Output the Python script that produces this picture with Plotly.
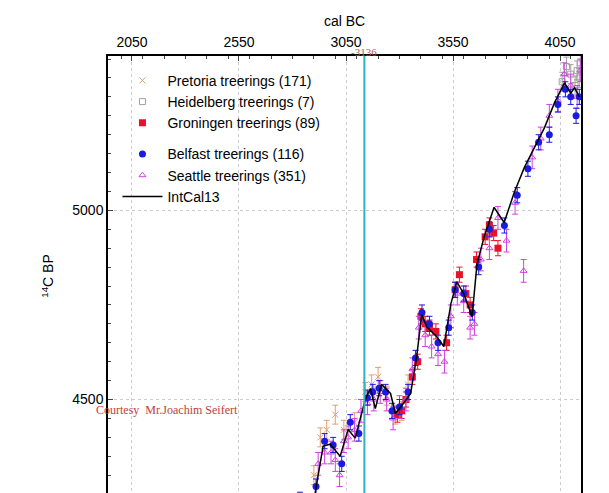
import plotly.graph_objects as go

# IntCal13 curve
curve_x = [2905, 2943, 2976, 3023, 3060, 3093, 3140, 3164, 3187, 3216, 3258, 3281, 3319, 3352,
           3380, 3404, 3427, 3474, 3507, 3540, 3568, 3601, 3639, 3662, 3695, 3742, 3789, 3836,
           3883, 3930, 3977, 4024, 4071, 4100, 4118, 4140]
curve_y = [4250, 4377, 4382, 4350, 4421, 4398, 4500, 4529, 4476, 4540, 4516, 4463, 4490, 4516,
           4613, 4724, 4692, 4666, 4640, 4753, 4811, 4779, 4719, 4858, 4929, 5008, 4968, 5047,
           5113, 5166, 5218, 5284, 5337, 5310, 5324, 5300]

belfast_x = [2835, 2910, 2950, 2990, 3030, 3070, 3110, 3150, 3175, 3205, 3235, 3265, 3300, 3340,
             3375, 3405, 3440, 3480, 3530, 3560, 3600, 3640, 3670, 3720, 3790, 3850, 3900, 3950,
             4000, 4040, 4075, 4100, 4125, 4140]
belfast_y = [4235, 4270, 4390, 4380, 4330, 4440, 4410, 4505, 4520, 4530, 4520, 4470, 4480, 4520,
             4610, 4730, 4700, 4650, 4690, 4790, 4780, 4730, 4850, 4950, 4960, 5040, 5110, 5180,
             5200, 5280, 5320, 5300, 5250, 5300]
belfast_e = [20] * len(belfast_x)

seattle_x = [2920, 2950, 2980, 3000, 3020, 3040, 3060, 3090, 3120, 3150, 3180, 3210, 3240, 3270,
             3300, 3330, 3360, 3390, 3420, 3450, 3480, 3510, 3540, 3570, 3600, 3630, 3650, 3680,
             3720, 3760, 3800, 3840, 3880, 3920, 3960, 4000, 4040, 4070, 4100, 4130, 4145]
seattle_y = [4330, 4360, 4360, 4340, 4300, 4390, 4400, 4420, 4470, 4490, 4500, 4520, 4500, 4450,
             4480, 4500, 4580, 4690, 4670, 4640, 4620, 4600, 4720, 4780, 4760, 4690, 4700, 4870,
             4900, 4980, 4920, 5020, 4840, 5140, 5190, 5250, 5290, 5360, 5330, 5300, 5370]
seattle_e = [30] * len(seattle_x)

groningen_x = [3290, 3310, 3330, 3360, 3385, 3400, 3420, 3440, 3470, 3520, 3560, 3580, 3610,
               3630, 3660, 3700, 3720, 3740, 3760]
groningen_y = [4460, 4470, 4500, 4560, 4600, 4720, 4700, 4690, 4680, 4650, 4790, 4830, 4780,
               4750, 4870, 4930, 4960, 4940, 4900]
groningen_e = [20] * len(groningen_x)

pretoria_x = [2900, 2930, 2960, 3000, 3040, 3090, 3140, 3170, 3200, 3240, 3280, 3310, 3340]
pretoria_y = [4300, 4400, 4420, 4460, 4420, 4440, 4520, 4540, 4560, 4510, 4460, 4470, 4540]
pretoria_e = [25] * len(pretoria_x)

heidelberg_x = [4060, 4080, 4100, 4120, 4130, 4140, 4145]
heidelberg_y = [5340, 5380, 5360, 5330, 5370, 5350, 5390]
heidelberg_e = [25] * len(heidelberg_x)

fig = go.Figure()


def add_series(x, y, e, name, color, symbol, group, rank, size=6):
    fig.add_trace(go.Scatter(
        x=x, y=y, mode="markers+lines", name=name, legendgroup=group, legendrank=rank,
        line=dict(width=0), marker=dict(color=color, symbol=symbol, size=size),
        error_y=dict(type="data", array=e, color=color, thickness=1, width=3)))


add_series(pretoria_x, pretoria_y, pretoria_e, "Pretoria treerings (171)", "#e0a070", "x-thin-open", "a", 1)
add_series(heidelberg_x, heidelberg_y, heidelberg_e, "Heidelberg treerings (7)", "#a0a0a0", "square-open", "a", 2)
add_series(groningen_x, groningen_y, groningen_e, "Groningen treerings (89)", "#e8102a", "square", "a", 3, 7)
add_series(seattle_x, seattle_y, seattle_e, "Seattle treerings (351)", "#d040e0", "triangle-up-open", "b", 5)
add_series(belfast_x, belfast_y, belfast_e, "Belfast treerings (116)", "#1a1ae0", "circle", "b", 4, 7)
fig.add_trace(go.Scatter(x=curve_x, y=curve_y, mode="lines", name="IntCal13", legendrank=6,
                         legendgroup="b", line=dict(color="black", width=1.5)))

fig.add_vline(x=3136, line=dict(color="#30b0c0", width=2))
fig.add_annotation(x=3136, y=1, yref="paper", text="-3136", showarrow=False, yanchor="middle",
                   yshift=4, font=dict(family="Liberation Serif", size=11, color="#c05050"))
fig.add_annotation(x=-0.03, y=0.175, xref="paper", yref="paper", text="Courtesy  Mr.Joachim Seifert",
                   showarrow=False, xanchor="left",
                   font=dict(family="Liberation Serif", size=12, color="#c04040"))

axis = dict(showline=True, linecolor="black", linewidth=1.5, mirror=True, ticks="inside",
            showgrid=True, gridcolor="#cccccc", griddash="dot", zeroline=False,
            minor=dict(ticks="inside", ticklen=3), tickfont=dict(size=14, color="black"))
fig.update_xaxes(axis, side="top", range=[1938, 4148], tickvals=[2050, 2550, 3050, 3550, 4050],
                 ticklabelstandoff=2, title=dict(text="cal BC", font=dict(size=14), standoff=4))
fig.update_yaxes(axis, range=[4245, 5408], tickvals=[4500, 5000], tickformat="d",
                 title=dict(text="<sup>14</sup>C BP", font=dict(size=14)))
fig.update_layout(
    width=609, height=493, plot_bgcolor="white", paper_bgcolor="white",
    margin=dict(l=100, r=36, t=48, b=3),
    font=dict(family="Liberation Sans", color="black"),
    legend=dict(x=0.02, y=0.98, bgcolor="rgba(0,0,0,0)", font=dict(size=14),
                tracegroupgap=10, itemwidth=40),
)
fig.write_html("out.html")
